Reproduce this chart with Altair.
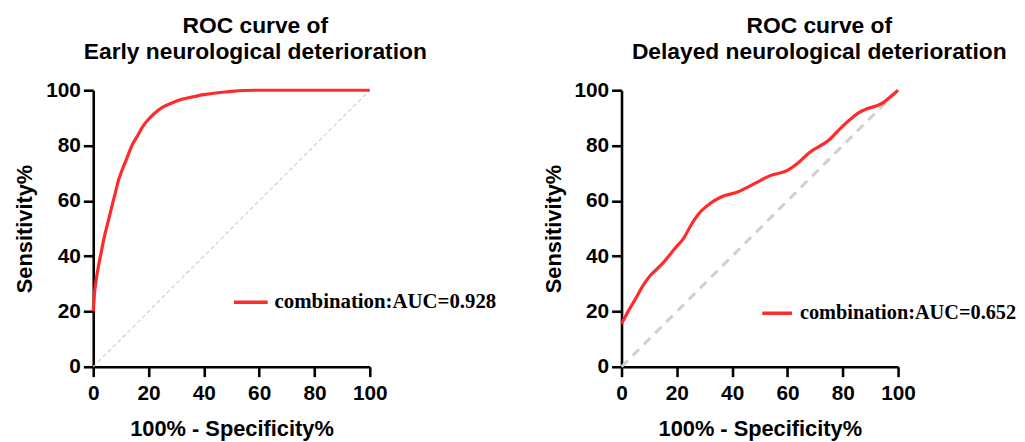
import altair as alt
import pandas as pd

# ---- data ----
early_x = [0, 0.5, 1, 2, 3, 4, 5, 6, 7, 8, 9, 10, 12, 14, 16, 18, 20, 22, 25, 28, 32, 36, 40, 45, 50, 55, 60, 100]
early_y = [20, 27, 31, 37, 42, 47, 51, 55, 59, 63, 67, 70, 75, 80, 83.5, 87, 89.5, 91.5, 93.8, 95.2, 96.7, 97.6, 98.4, 99.1, 99.6, 99.9, 100, 100]

delayed_x = [0, 2.5, 5, 8, 10, 14.5, 19.5, 22.5, 25, 28, 32, 36, 42, 48, 54, 60, 63.5, 68, 75, 80, 86, 88, 94.5, 98, 100]
delayed_y = [15.5, 20.2, 24.5, 29.7, 32.5, 37, 43, 46.5, 51, 55.4, 59, 61.4, 63.2, 66.2, 69.2, 71, 73.4, 77.5, 82, 87, 92, 93, 95.4, 98.3, 100]

diag = [0, 100]
ticks = [0, 20, 40, 60, 80, 100]

early_label = "combination:AUC=0.928"
delayed_label = "combination:AUC=0.652"
titles = [["ROC curve of", "Early neurological deterioration"],
          ["ROC curve of", "Delayed neurological deterioration"]]

RED = "#ff2b2b"
SANS = "Liberation Sans"
SERIF = "Liberation Serif"


def panel(xs, ys, label, title, title_dx, diag_width, diag_dash, leg_x, leg_y, sym_w, lab_off, lab_size):
    df = pd.DataFrame({"x": xs, "y": ys, "series": label})
    dd = pd.DataFrame({"x": diag, "y": diag})
    xenc = alt.X("x:Q", scale=alt.Scale(domain=[0, 100], nice=False),
                 axis=alt.Axis(values=ticks, title="100% - Specificity%"))
    yenc = alt.Y("y:Q", scale=alt.Scale(domain=[0, 100], nice=False),
                 axis=alt.Axis(values=ticks, title="Sensitivity%"))
    ref = alt.Chart(dd).mark_line(color="#cfcfcf", strokeWidth=diag_width,
                                  strokeDash=diag_dash).encode(x=xenc, y=yenc)
    curve = alt.Chart(df).mark_line(strokeWidth=3.2, interpolate="monotone").encode(
        x=xenc, y=yenc,
        color=alt.Color("series:N",
                        scale=alt.Scale(domain=[label], range=[RED]),
                        legend=alt.Legend(orient="none", legendX=leg_x, legendY=leg_y,
                                          title=None, symbolType="stroke",
                                          symbolSize=sym_w * sym_w, symbolStrokeWidth=3.5,
                                          labelFont=SERIF, labelFontWeight="bold",
                                          labelFontSize=lab_size, labelColor="black",
                                          labelLimit=0, labelOffset=lab_off, padding=0)),
    )
    return alt.layer(ref, curve).properties(
        width=279, height=279,
        title=alt.TitleParams(text=title, fontSize=23, font=SANS, fontWeight="bold",
                              color="black", lineHeight=27, anchor="middle",
                              dx=title_dx, offset=15),
    )


left = panel(early_x, early_y, early_label, titles[0], 24, 1.2, [4, 3], 140, 195, 34, 5, 21)
right = panel(delayed_x, delayed_y, delayed_label, titles[1], 60, 3, [9, 7], 140, 208, 30, 6, 20.5)

chart = alt.hconcat(left, right, spacing=254, bounds="flush").resolve_scale(
    color="independent").properties(
    padding={"left": 5, "top": 5, "right": 0, "bottom": 5}
).configure_view(stroke=None).configure_axis(
    grid=False, domainColor="black", domainWidth=2.6, tickColor="black", tickWidth=2.6,
    tickSize=10, labelFont=SANS, labelFontSize=21, labelFontWeight="bold",
    labelColor="black", labelFlush=False, titleFont=SANS, titleFontSize=22,
    titleFontWeight="bold", titleColor="black",
).configure_axisX(labelPadding=6, titlePadding=15).configure_axisY(
    labelPadding=3, titlePadding=9
)

chart.save("out.html", embed_options={"renderer": "svg", "actions": False})
